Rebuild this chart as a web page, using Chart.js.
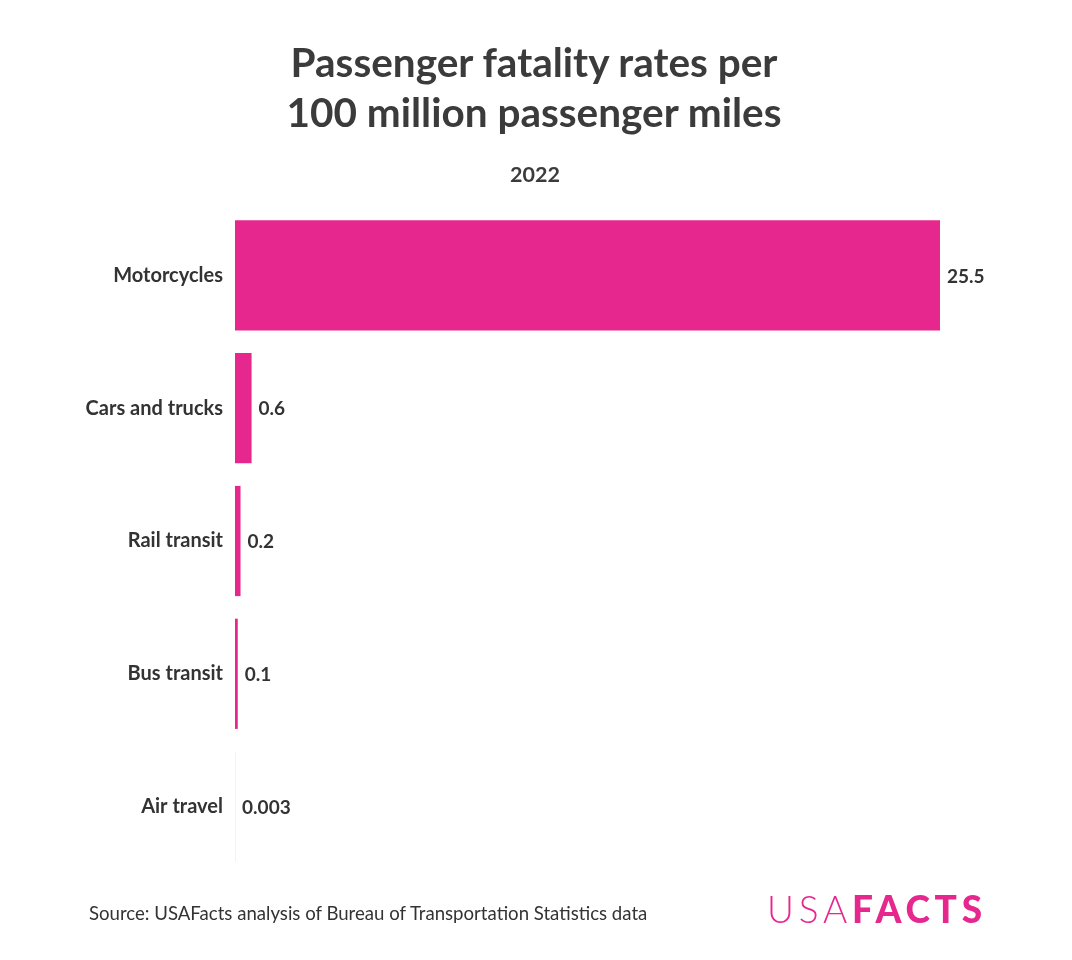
<!DOCTYPE html>
<html><head><meta charset="utf-8">
<script src="https://cdn.jsdelivr.net/npm/chart.js@4/dist/chart.umd.min.js"></script>
<style>
html,body{margin:0;padding:0;background:#fff;}
#wrap{position:relative;width:1072px;height:960px;font-family:Lato,"Open Sans",sans-serif;}
canvas{position:absolute;left:0;top:0;}
.t{position:absolute;left:0;width:1072px;text-align:center;color:#3b3b3b;font-weight:700;}
#title{left:-2px;top:37px;font-size:40.5px;line-height:50px;}
#sub{left:-1px;top:161px;font-size:21.5px;}
#src{position:absolute;left:89px;top:902px;font-size:18.6px;color:#333;}
#logo{position:absolute;left:767px;top:886px;font-size:37px;color:#e6288e;letter-spacing:4.8px;}
#logo .a{font-weight:300;}
#logo .b{font-weight:900;}
</style></head>
<body><div id="wrap">
<canvas id="c" width="1072" height="960"></canvas>
<div class="t" id="title">Passenger fatality rates per<br>100 million passenger miles</div>
<div class="t" id="sub">2022</div>
<div id="src">Source: USAFacts analysis of Bureau of Transportation Statistics data</div>
<div id="logo"><span class="a">USA</span><span class="b">FACTS</span></div>
</div>
<script>
const categories = ["Motorcycles","Cars and trucks","Rail transit","Bus transit","Air travel"];
const rates = [25.5, 0.6, 0.2, 0.1, 0.003];
const valueLabels = ["25.5","0.6","0.2","0.1","0.003"];

const valuePlugin = {
  id:'vals',
  afterDatasetsDraw(chart){
    const ctx = chart.ctx;
    const meta = chart.getDatasetMeta(0);
    ctx.save();
    ctx.font = '700 19px Lato, "Open Sans", sans-serif';
    ctx.fillStyle = '#333';
    ctx.textBaseline = 'middle';
    ctx.textAlign = 'left';
    meta.data.forEach((bar,i)=>{
      ctx.fillText(valueLabels[i], bar.x + 7, bar.y + 1);
    });
    ctx.restore();
  }
};

new Chart(document.getElementById('c'),{
  type:'bar',
  data:{labels:categories,datasets:[{data:rates,backgroundColor:'#e6288e',borderWidth:0,categoryPercentage:0.83,barPercentage:1}]},
  options:{
    indexAxis:'y',responsive:false,animation:false,
    layout:{padding:{top:209,bottom:87,right:132,left:0}},
    plugins:{legend:{display:false},tooltip:{enabled:false}},
    scales:{
      x:{display:false,min:0,max:25.5},
      y:{
        grid:{display:false,drawTicks:false},border:{display:false},
        afterFit(s){s.width=235;},
        ticks:{padding:12,color:'#333',font:{family:'Lato, "Open Sans", sans-serif',size:20,weight:'700'}}
      }
    }
  },
  plugins:[valuePlugin]
});
</script>
</body></html>
